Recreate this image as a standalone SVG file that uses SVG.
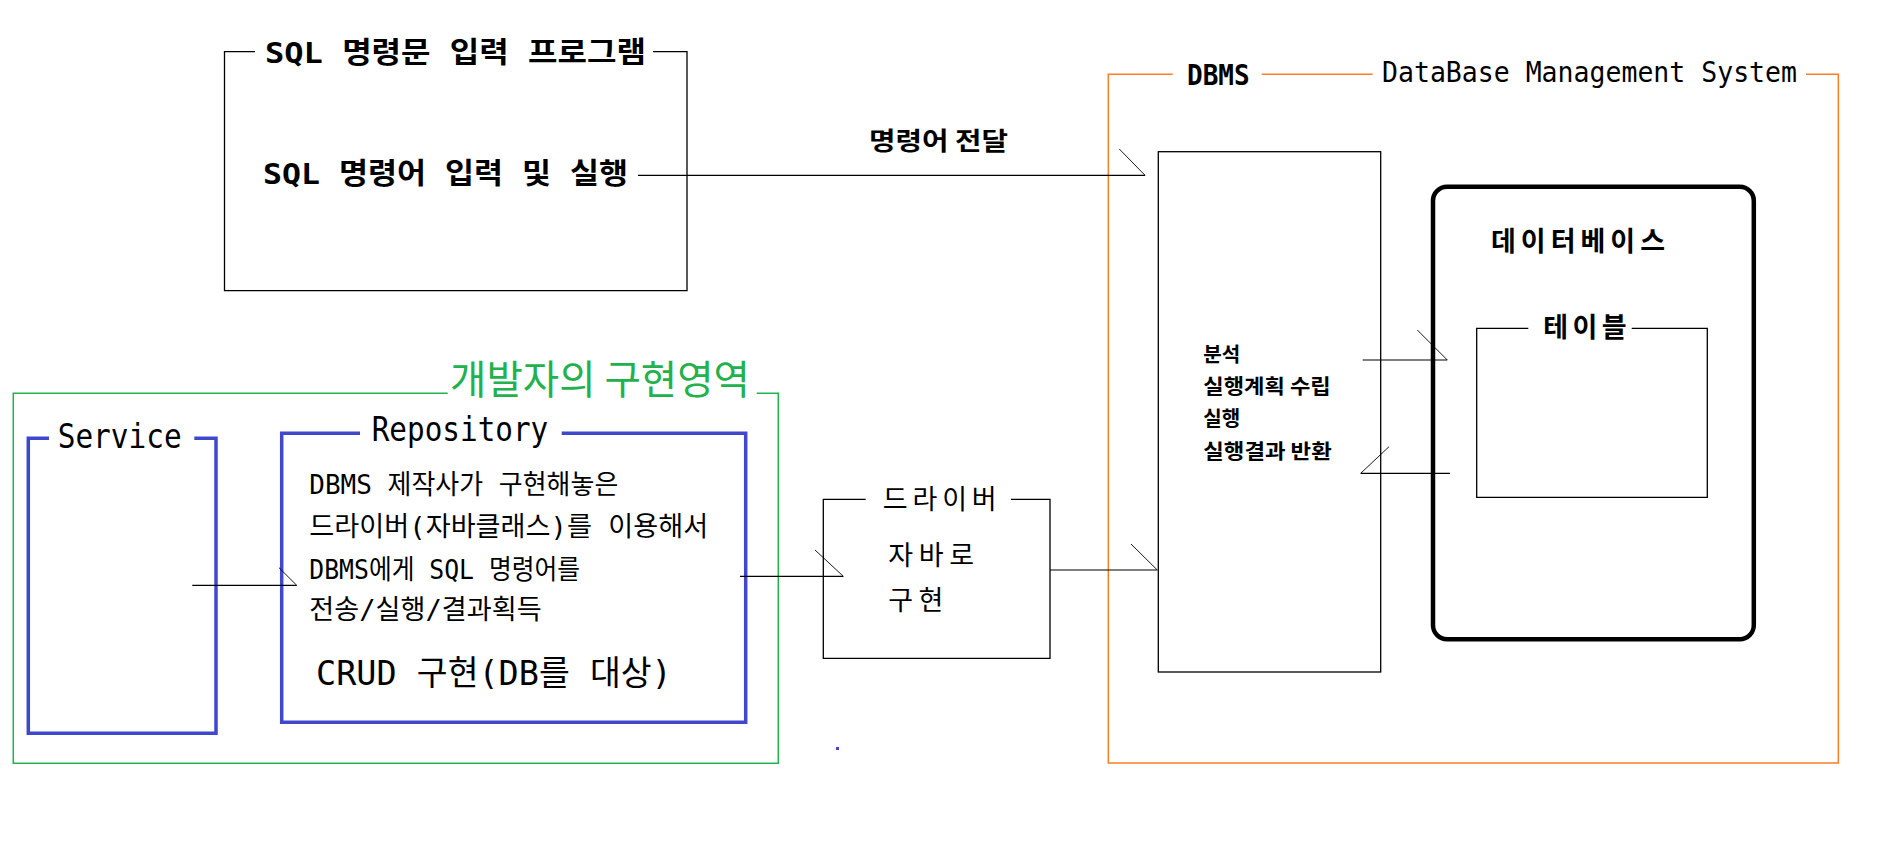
<svg xmlns="http://www.w3.org/2000/svg" width="1898" height="868" viewBox="0 0 1898 868">
<style>
text{font-family:"DejaVu Sans Mono","Noto Sans CJK KR",monospace;fill:#000}
.b{font-weight:700}
.k{font-family:"Noto Sans CJK KR","DejaVu Sans Mono",sans-serif}
.thin{fill:none;stroke:#000;stroke-width:1.3}
.blue{fill:none;stroke:#3f48cc;stroke-width:3.5}
.cn{fill:none;stroke:#000;stroke-width:1.2}
.tk{fill:none;stroke:#000;stroke-width:0.9}
</style>
<rect width="1898" height="868" fill="#fff"/>

<g id="sql-program">
<path class="thin" d="M255,51.7 H224.5 V290.7 H687 V51.7 H653"/>
<text class="b" x="265" y="63" font-size="29" textLength="381" lengthAdjust="spacingAndGlyphs">SQL 명령문 입력 프로그램</text>
<text class="b" x="263" y="184" font-size="29" textLength="365" lengthAdjust="spacingAndGlyphs">SQL 명령어 입력 및 실행</text>
</g>

<g id="dbms">
<path fill="none" stroke="#ff7f27" stroke-width="1.5" d="M1172.7,74.3 H1108.3 V763 H1838.3 V74.3 H1806 M1261.7,74.3 H1372.7"/>
<text class="b" x="1187" y="85" font-size="28" textLength="62.6" lengthAdjust="spacingAndGlyphs">DBMS</text>
<text x="1382" y="82" font-size="29" textLength="415" lengthAdjust="spacingAndGlyphs">DataBase Management System</text>
</g>

<g id="dbms-engine">
<rect class="thin" x="1158.3" y="151.7" width="222.4" height="520.3"/>
<text class="k b" x="1203.3" y="362" font-size="20.5" textLength="37" lengthAdjust="spacingAndGlyphs">분석</text>
<text class="k b" x="1203.3" y="394" font-size="20.5" textLength="127.4" lengthAdjust="spacingAndGlyphs">실행계획 수립</text>
<text class="k b" x="1203.3" y="426" font-size="20.5" textLength="37" lengthAdjust="spacingAndGlyphs">실행</text>
<text class="k b" x="1203.3" y="458.5" font-size="20.5" textLength="128.4" lengthAdjust="spacingAndGlyphs">실행결과 반환</text>
</g>

<g id="database">
<rect x="1433" y="186.7" width="320.8" height="452.5" rx="14" fill="none" stroke="#000" stroke-width="4.5"/>
<text class="k b" x="1491" y="251" font-size="27" textLength="174">데이터베이스</text>
</g>

<g id="table">
<path class="thin" d="M1528.3,328.3 H1476.7 V497.3 H1707.3 V328.3 H1631.7"/>
<text class="k b" x="1543.3" y="337" font-size="27" textLength="83.4">테이블</text>
</g>

<g id="dev-area">
<path fill="none" stroke="#22b14c" stroke-width="1.5" d="M447.7,393.3 H13.3 V763.3 H778.3 V393.3 H756.7"/>
<text class="k" x="450" y="394" font-size="40" style="fill:#22b14c" textLength="300" lengthAdjust="spacingAndGlyphs">개발자의 구현영역</text>
</g>

<g id="service">
<path class="blue" d="M49,438.3 H28.3 V733.3 H216 V438.3 H194.3"/>
<text x="57.7" y="448" font-size="33" textLength="124" lengthAdjust="spacingAndGlyphs">Service</text>
</g>

<g id="repository">
<path class="blue" d="M360,433.3 H281.7 V722.3 H745.7 V433.3 H561.7"/>
<text x="371.7" y="440.7" font-size="33" textLength="176.6" lengthAdjust="spacingAndGlyphs">Repository</text>
<text x="309.3" y="494" font-size="27" textLength="309" lengthAdjust="spacingAndGlyphs">DBMS 제작사가 구현해놓은</text>
<text x="309.3" y="536" font-size="27" textLength="399" lengthAdjust="spacingAndGlyphs">드라이버(자바클래스)를 이용해서</text>
<text x="309.3" y="578.5" font-size="27" textLength="270.7" lengthAdjust="spacingAndGlyphs">DBMS에게 SQL 명령어를</text>
<text x="309.3" y="619" font-size="27" textLength="232.4" lengthAdjust="spacingAndGlyphs">전송/실행/결과획득</text>
<text x="316" y="685" font-size="34" textLength="355.7" lengthAdjust="spacingAndGlyphs">CRUD 구현(DB를 대상)</text>
</g>

<g id="driver">
<path class="thin" d="M865.7,499.3 H823.3 V658.3 H1050 V499.3 H1011"/>
<text class="k" x="882.7" y="509" font-size="27" textLength="114">드라이버</text>
<text class="k" x="888.3" y="565" font-size="27" textLength="85.7">자바로</text>
<text class="k" x="888.3" y="610" font-size="27" textLength="55">구현</text>
</g>

<rect id="dot" x="836" y="747" width="3" height="3" fill="#3f48cc"/>

<g id="connectors">
<text class="k b" x="869" y="150" font-size="25" textLength="139" lengthAdjust="spacingAndGlyphs">명령어 전달</text>
<path class="cn" d="M638,175.3 H1145"/>
<path class="tk" d="M1119.3,149 L1145,175.3"/>
<path class="cn" d="M192.3,585.3 H296.7"/>
<path class="tk" d="M279,567.7 L296.7,585.3"/>
<path class="cn" d="M740,576.3 H843.3"/>
<path class="tk" d="M815,550 L843.3,576.3"/>
<path class="cn" d="M1050,570 H1157.3"/>
<path class="tk" d="M1131,544 L1157.3,570"/>
<path class="cn" d="M1362.7,360 H1447.3"/>
<path class="tk" d="M1417.3,330 L1447.3,360"/>
<path class="cn" d="M1450,473.3 H1360.7"/>
<path class="tk" d="M1389,446.7 L1360.7,473.3"/>
</g>
</svg>
